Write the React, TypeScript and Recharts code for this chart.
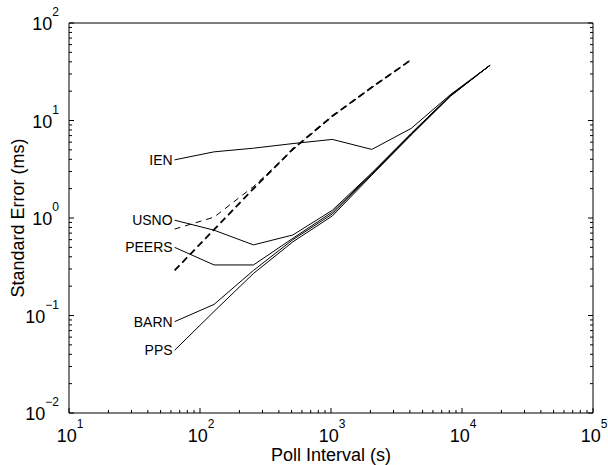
import { LineChart, Line, XAxis, YAxis } from "recharts";

// poll intervals (s), 2^6 .. 2^14
const INTERVALS = [64, 128, 256, 512, 1024, 2048, 4096, 8192, 16384];

// standard error (ms) per server
const IEN = [3.95, 4.77, 5.2, 5.8, 6.4, 5.05, 8.3, 18.5, 36.9];
const USNO = [0.95, 0.75, 0.53, 0.67, 1.2, 2.9, 7.4, 18.2, 36.9];
const PEERS = [0.5, 0.33, 0.33, 0.62, 1.15, 2.85, 7.3, 18.1, 36.9];
const BARN = [0.0865, 0.13, 0.29, 0.6, 1.1, 2.8, 7.2, 18, 36.9];
const PPS = [0.044, 0.11, 0.27, 0.57, 1.05, 2.75, 7.1, 17.8, 36.9];

// dashed curves (stop at 4096 s)
const DASH_A = [0.29, 0.76, 2.0, 5.1, 11.1, 21.9, 42];
const DASH_B = [0.77, 1.02, 2.1, 5.0, 11.0, 21.7, 42];

const X_MAJOR = [10, 100, 1000, 10000, 100000];
const Y_MAJOR = [0.01, 0.1, 1, 10, 100];

const FONT = '"Liberation Sans", Arial, Helvetica, sans-serif';

// plot box
const W = 608;
const H = 465;
const LEFT = 69;
const RIGHT = 593;
const TOP = 23;
const BOTTOM = 413;

// log ticks: majors plus 2..9 minors in each decade
function withMinor(majors: number[]) {
    const out: number[] = [];
    majors.forEach((m, i) => {
        out.push(m);
        if (i < majors.length - 1) {
            for (let k = 2; k <= 9; k++) out.push(+(m * k).toPrecision(6));
        }
    });
    return out;
}
const X_TICKS = withMinor(X_MAJOR);
const Y_TICKS = withMinor(Y_MAJOR);

function isMajor(v: number) {
    const l = Math.log10(v);
    return Math.abs(l - Math.round(l)) < 1e-9;
}

function expText(v: number) {
    const e = Math.round(Math.log10(v));
    return e < 0 ? "\u2212" + Math.abs(e) : String(e);
}

function series(vals: number[]) {
    return vals.map((y, i) => ({ x: INTERVALS[i], y }));
}

function BottomTick(props: any) {
    const { x, payload } = props;
    const v = payload.value;
    const major = isMajor(v);
    return (
        <g>
            <line x1={x} x2={x} y1={BOTTOM} y2={BOTTOM - (major ? 5 : 3)} stroke="#000" />
            {major && (
                <text x={x + 1} y={BOTTOM + 29} textAnchor="middle" fontSize={18} fontFamily={FONT} fill="#000">
                    10
                    <tspan dy={-14} fontSize={12}>
                        {expText(v)}
                    </tspan>
                </text>
            )}
        </g>
    );
}

function TopTick(props: any) {
    const { x, payload } = props;
    const major = isMajor(payload.value);
    return <line x1={x} x2={x} y1={TOP} y2={TOP + (major ? 5 : 3)} stroke="#000" />;
}

function LeftTick(props: any) {
    const { y, payload } = props;
    const v = payload.value;
    const major = isMajor(v);
    return (
        <g>
            <line x1={LEFT} x2={LEFT + (major ? 5 : 3)} y1={y} y2={y} stroke="#000" />
            {major && (
                <text x={59} y={y + 7} textAnchor="end" fontSize={18} fontFamily={FONT} fill="#000">
                    10
                    <tspan dy={-14} fontSize={12}>
                        {expText(v)}
                    </tspan>
                </text>
            )}
        </g>
    );
}

function RightTick(props: any) {
    const { y, payload } = props;
    const major = isMajor(payload.value);
    return <line x1={RIGHT} x2={RIGHT - (major ? 5 : 3)} y1={y} y2={y} stroke="#000" />;
}

// name written to the left of the first point
function startLabel(name: string) {
    return (p: any) =>
        p.index === 0 ? (
            <text x={p.x - 2} y={p.y + 5} textAnchor="end" fontSize={14} fontFamily={FONT} fill="#000">
                {name}
            </text>
        ) : null;
}

const SOLID = [
    { name: "IEN", vals: IEN },
    { name: "USNO", vals: USNO },
    { name: "PEERS", vals: PEERS },
    { name: "BARN", vals: BARN },
    { name: "PPS", vals: PPS },
];

export default function App() {
    return (
        <div style={{ position: "absolute", left: 0, top: 0, width: W, height: H, background: "#fff" }}>
            <LineChart width={W} height={H} margin={{ top: TOP - 1, right: W - RIGHT - 1, bottom: 0, left: 0 }}>
                <XAxis
                    dataKey="x"
                    type="number"
                    scale="log"
                    domain={[10, 100000]}
                    ticks={X_TICKS}
                    interval={0}
                    allowDataOverflow
                    height={H - BOTTOM}
                    axisLine={{ stroke: "#000" }}
                    tickLine={false}
                    tick={<BottomTick />}
                />
                <XAxis
                    xAxisId="top"
                    orientation="top"
                    type="number"
                    scale="log"
                    domain={[10, 100000]}
                    ticks={X_TICKS}
                    interval={0}
                    allowDataOverflow
                    height={1}
                    axisLine={{ stroke: "#000" }}
                    tickLine={false}
                    tick={<TopTick />}
                />
                <YAxis
                    dataKey="y"
                    type="number"
                    scale="log"
                    domain={[0.01, 100]}
                    ticks={Y_TICKS}
                    interval={0}
                    allowDataOverflow
                    width={LEFT}
                    axisLine={{ stroke: "#000" }}
                    tickLine={false}
                    tick={<LeftTick />}
                />
                <YAxis
                    yAxisId="right"
                    orientation="right"
                    type="number"
                    scale="log"
                    domain={[0.01, 100]}
                    ticks={Y_TICKS}
                    interval={0}
                    allowDataOverflow
                    width={1}
                    axisLine={{ stroke: "#000" }}
                    tickLine={false}
                    tick={<RightTick />}
                />
                <Line
                    data={series(DASH_A)}
                    dataKey="y"
                    stroke="#000"
                    strokeWidth={1.8}
                    strokeDasharray="7 4"
                    dot={false}
                    isAnimationActive={false}
                />
                <Line
                    data={series(DASH_B)}
                    dataKey="y"
                    stroke="#000"
                    strokeWidth={1}
                    strokeDasharray="6 5"
                    dot={false}
                    isAnimationActive={false}
                />
                {SOLID.map((s) => (
                    <Line
                        key={s.name}
                        data={series(s.vals)}
                        dataKey="y"
                        stroke="#000"
                        strokeWidth={1}
                        dot={false}
                        label={startLabel(s.name)}
                        isAnimationActive={false}
                    />
                ))}
                <text x={(LEFT + RIGHT) / 2} y={461} textAnchor="middle" fontSize={18} fontFamily={FONT} fill="#000">
                    Poll Interval (s)
                </text>
                <text
                    x={24}
                    y={(TOP + BOTTOM) / 2}
                    transform={`rotate(-90, 24, ${(TOP + BOTTOM) / 2})`}
                    textAnchor="middle"
                    fontSize={18}
                    fontFamily={FONT}
                    fill="#000"
                >
                    Standard Error (ms)
                </text>
            </LineChart>
        </div>
    );
}
